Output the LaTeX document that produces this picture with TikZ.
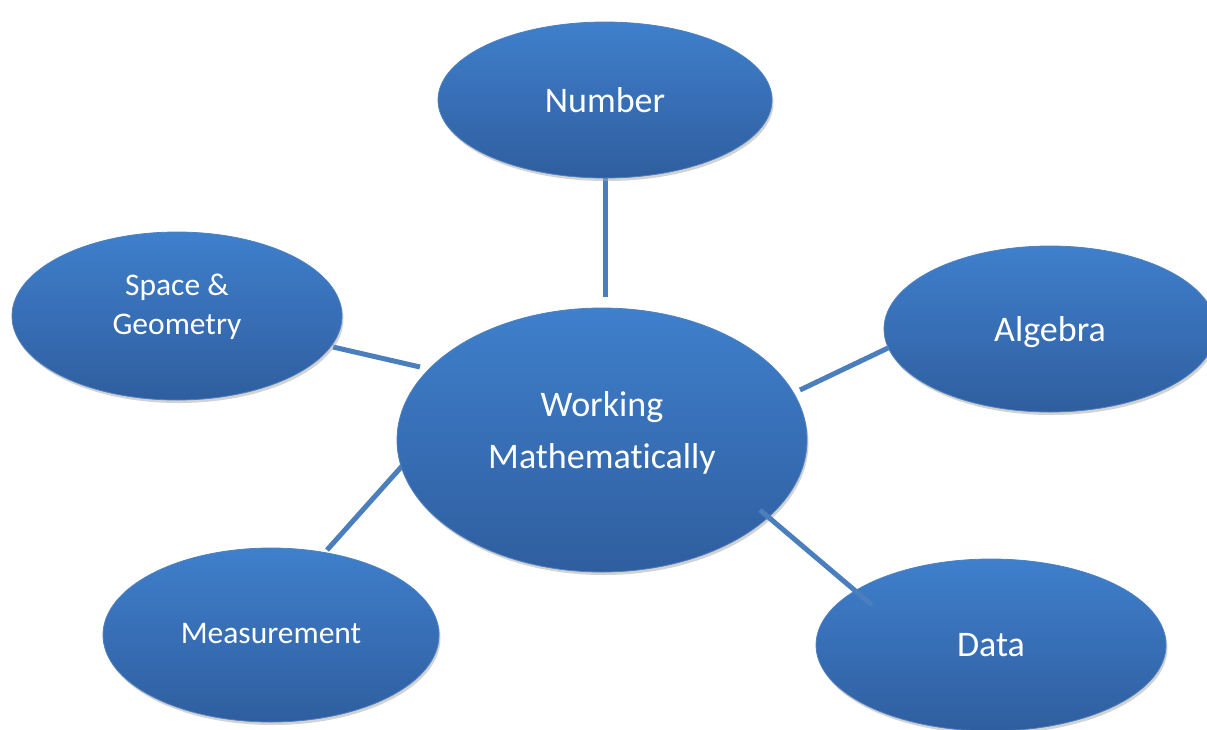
\documentclass[tikz,border=0pt]{standalone}
\usepackage{fontspec}
\setmainfont{Carlito}[Ligatures=NoCommon]
\usetikzlibrary{shapes.geometric,shadows}
\definecolor{topblue}{HTML}{3F7FCC}
\definecolor{botblue}{HTML}{2F5E9F}
\definecolor{edgeblue}{HTML}{4F81BD}
\definecolor{linkblue}{HTML}{4A7EBD}
\tikzset{
  topic/.style={ellipse, inner sep=0pt, top color=topblue, bottom color=botblue,
    draw=edgeblue, line width=0.8pt, text=white, align=center,
    drop shadow={shadow xshift=1.5pt, shadow yshift=-3pt, fill=black!35, opacity=0.5}},
  bigtxt/.style={text=white, align=center, font=\fontsize{36}{52}\selectfont},
  smalltxt/.style={text=white, align=center, font=\fontsize{31.5}{39}\selectfont},
  link/.style={draw=linkblue, line width=5pt},
}
\begin{document}
\begin{tikzpicture}[x=1pt,y=-1pt]
\useasboundingbox (0,0) rectangle (1207,729);
% connectors under the nodes
\coordinate (nA) at (605,178);
\coordinate (nB) at (605,297);
\coordinate (sA) at (333,347);
\coordinate (sB) at (420,367);
\coordinate (aA) at (888,348);
\coordinate (aB) at (800,390);
\coordinate (mA) at (327,550);
\coordinate (mB) at (403,465);
\draw[link] (nA) -- (nB);
\draw[link] (sA) -- (sB);
\draw[link] (aA) -- (aB);
\draw[link] (mA) -- (mB);
\node[topic, minimum width=334pt, minimum height=156pt,
  label={[bigtxt]center:Number}] (num) at (605,100) {};
\node[topic, minimum width=330pt, minimum height=168pt,
  label={[smalltxt, yshift=9pt]center:Space \&\\Geometry}] (sg) at (177,316) {};
\node[topic, minimum width=332pt, minimum height=166pt,
  label={[bigtxt, yshift=-3pt]center:Algebra}] (alg) at (1050,329) {};
\node[topic, minimum width=410pt, minimum height=264pt,
  label={[bigtxt, yshift=7pt]center:Working\\Mathemat\kern0pt ically}] (wm) at (602,440) {};
\node[topic, minimum width=336pt, minimum height=174pt,
  label={[smalltxt, yshift=2pt]center:Measurement}] (meas) at (271,635) {};
\node[topic, minimum width=350pt, minimum height=172pt,
  label={[bigtxt]center:Data}] (data) at (991,645) {};
% data connector on top
\coordinate (dA) at (760,510);
\coordinate (dB) at (872,605);
\draw[link] (dA) -- (dB);
\end{tikzpicture}
\end{document}
